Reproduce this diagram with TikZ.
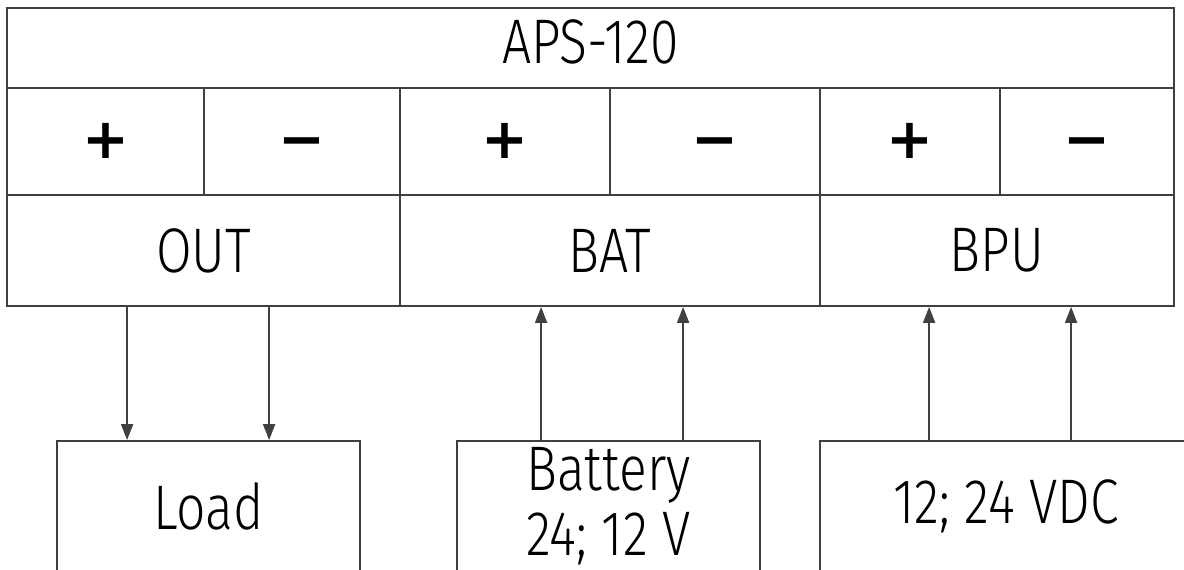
\documentclass[tikz,border=0pt]{standalone}
\usepackage{fontspec}
\setmainfont{Fira Sans Light}[FakeStretch=0.82, BoldFont={Fira Sans Bold}]
\newfontfamily\signfont{DejaVu Sans}[BoldFont={DejaVu Sans Bold}]
\usetikzlibrary{arrows.meta, positioning}

\begin{document}
\begin{tikzpicture}[x=1pt, y=-1pt,
  cell/.style={draw=black!75, line width=1.8pt, inner sep=0pt, font=\fontsize{63}{65}\selectfont},
  sign/.style={cell, minimum height=107pt, text height=34pt, text depth=0pt,
    font=\signfont\fontsize{56}{60}\selectfont\bfseries},
  wire/.style={draw=black!75, line width=1.8pt, -{Triangle[length=16pt,width=12pt]}}]
  % Page size
  \useasboundingbox (0,0) rectangle (1184,570);
  \clip (0,0) rectangle (1184,570);

  % Header of the unit
  \node[cell, minimum width=1167pt, minimum height=80pt, text depth=12pt] (title) at (590.5,48) {APS-120};

  % Terminals
  \node[sign, minimum width=197pt] (outP) at (105.5,141.5) {+};
  \node[sign, minimum width=196pt] (outM) at (302,141.5) {−};
  \node[sign, minimum width=210pt] (batP) at (505,141.5) {+};
  \node[sign, minimum width=210pt] (batM) at (715,141.5) {−};
  \node[sign, minimum width=180pt] (bpuP) at (910,141.5) {+};
  \node[sign, minimum width=174pt] (bpuM) at (1087,141.5) {−};

  % Port names
  \node[cell, minimum width=393pt, minimum height=111pt] (out) at (203.5,250.5) {OUT};
  \node[cell, minimum width=420pt, minimum height=111pt] (bat) at (610,250.5) {BAT};
  \node[cell, minimum width=354pt, minimum height=111pt] (bpu) at (997,250.5) {BPU};

  % External devices
  \node[cell, minimum width=303pt, minimum height=130pt] (load) at (208.5,506) {Load};
  \node[cell, minimum width=303pt, minimum height=130pt, align=center] (battery) at (608.5,506) {Battery\\24; 12 V};
  \node[cell, minimum width=372pt, minimum height=130pt] (supply) at (1006,506) {12; 24 VDC};

  % Wire ends
  \coordinate (loadA) at ([xshift=71pt]load.north west);
  \coordinate (loadB) at ([xshift=213pt]load.north west);
  \coordinate (batA) at ([xshift=85pt]battery.north west);
  \coordinate (batB) at ([xshift=227pt]battery.north west);
  \coordinate (bpuA) at ([xshift=110pt]supply.north west);
  \coordinate (bpuB) at ([xshift=252pt]supply.north west);

  % Wires
  \foreach \p in {loadA, loadB}
    \draw[wire] (\p |- out.south) -- (\p);
  \foreach \p in {batA, batB}
    \draw[wire] (\p) -- (\p |- bat.south);
  \foreach \p in {bpuA, bpuB}
    \draw[wire] (\p) -- (\p |- bpu.south);
\end{tikzpicture}
\end{document}
